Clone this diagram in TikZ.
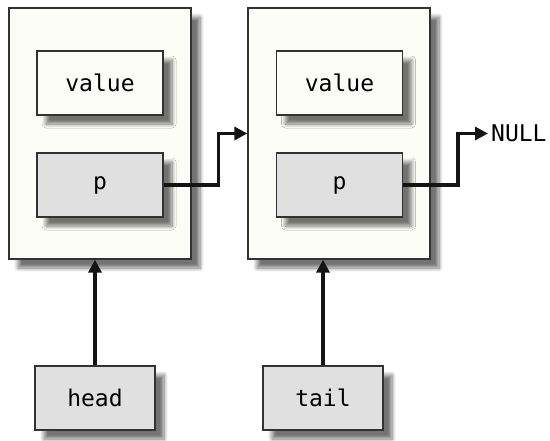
\documentclass[tikz,border=0pt]{standalone}
\usepackage{fontspec}
\setmonofont{DejaVu Sans Mono}
\usetikzlibrary{shadows.blur,arrows.meta}
\definecolor{paper}{RGB}{253,253,247}
\definecolor{cellgrey}{RGB}{224,224,224}
\definecolor{edge}{RGB}{50,50,50}
\begin{document}
\begin{tikzpicture}[x=1pt,y=-1pt,
  shade/.style={blur shadow={shadow xshift=9pt,shadow yshift=-9pt,shadow blur radius=4pt,shadow blur steps=8,shadow opacity=55}},
  outer/.style={draw=edge,line width=1.3pt,fill=paper,shade,minimum width=182pt,minimum height=251pt,inner sep=0pt},
  cell/.style={draw=edge,line width=1.3pt,shade,minimum width=126pt,minimum height=64pt,inner sep=0pt,
    font=\fontsize{23}{27}\selectfont\ttfamily},
  valcell/.style={cell,fill=paper},
  ptrcell/.style={cell,fill=cellgrey},
  ptr/.style={line width=3.6pt,-{Triangle[length=13pt,width=13pt]},black!92}]
\useasboundingbox (0,0) rectangle (550,440);
\node[outer] (box1) at (100,133.5) {};
\node[outer] (box2) at (339,133.5) {};
\node[valcell] (v1) at (100,83) {value};
\node[ptrcell] (p1) at (100,185) {p};
\node[valcell] (v2) at (339.5,83) {value};
\node[ptrcell] (p2) at (339.5,185) {p};
\node[ptrcell,minimum width=120pt] (head) at (95,398) {head};
\node[ptrcell,minimum width=120pt] (tail) at (323,398) {tail};
\node[anchor=west,inner sep=0pt,font=\fontsize{23}{27}\selectfont\ttfamily] (null) at (491,133.5) {NULL};
\draw[ptr] (p1.east) -- ++(55,0) |- (box2.west);
\draw[ptr] (p2.east) -- ++(55,0) |- ([xshift=-3pt]null.west);
\draw[ptr] (head.north) -- (head.north |- box1.south);
\draw[ptr] (tail.north) -- (tail.north |- box2.south);
\end{tikzpicture}
\end{document}
